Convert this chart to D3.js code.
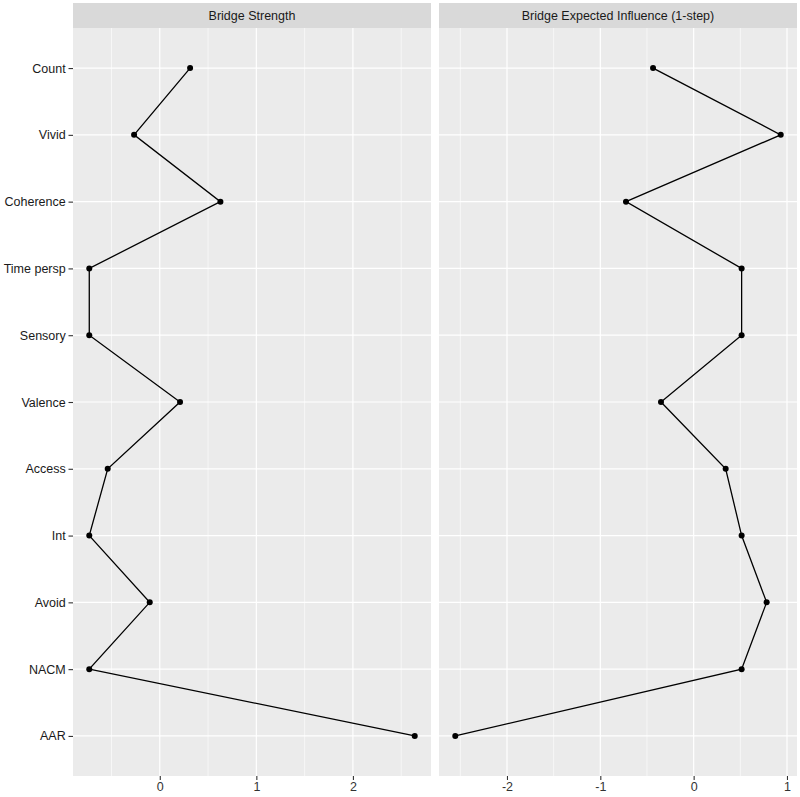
<!DOCTYPE html>
<meta charset="utf-8">
<style>
body { margin: 0; background: #fff; }
text { font-family: "Liberation Sans", Arial, sans-serif; }
</style>
<body>
<div id="chart"></div>
<script src="https://d3js.org/d3.v7.min.js"></script>
<script>
var nodes = ['Count', 'Vivid', 'Coherence', 'Time persp', 'Sensory', 'Valence',
    'Access', 'Int', 'Avoid', 'NACM', 'AAR']
var bridgeStrength = [0.314, -0.266, 0.628, -0.73, -0.73, 0.21, -0.539, -0.73, -0.104, -0.73, 2.64]
var bridgeEI = [-0.435, 0.933, -0.725, 0.514, 0.514, -0.35, 0.343, 0.514, 0.782, 0.514, -2.554]
var panelTitles = ['Bridge Strength', 'Bridge Expected Influence (1-step)']

var width = 800
var height = 797
var panelTop = 28, panelBottom = 776, stripTop = 3
var panels = [
    { title: panelTitles[0], values: bridgeStrength, x0: 73, x1: 431 },
    { title: panelTitles[1], values: bridgeEI, x0: 439, x1: 797 }
]

var svg = d3.select('#chart')
    .append('svg')
    .attr('width', width)
    .attr('height', height)

var y = d3.scalePoint()
    .domain(nodes)
    .range([panelTop, panelBottom])
    .padding(0.6)

panels.forEach(function (p, i) {
    var ext = d3.extent(p.values)
    var pad = (ext[1] - ext[0]) * 0.05
    var x = d3.scaleLinear()
        .domain([ext[0] - pad, ext[1] + pad])
        .range([p.x0, p.x1])

    var g = svg.append('g')

    // strip
    g.append('rect')
        .attr('x', p.x0).attr('y', stripTop)
        .attr('width', p.x1 - p.x0).attr('height', panelTop - stripTop)
        .style('fill', '#d9d9d9')
    g.append('text')
        .attr('x', (p.x0 + p.x1) / 2)
        .attr('y', (stripTop + panelTop) / 2 + 4.5)
        .style('text-anchor', 'middle')
        .style('font-size', '12.5px')
        .style('fill', '#1a1a1a')
        .text(p.title)

    // panel background
    g.append('rect')
        .attr('x', p.x0).attr('y', panelTop)
        .attr('width', p.x1 - p.x0).attr('height', panelBottom - panelTop)
        .style('fill', '#ebebeb')

    var major = x.ticks(4).filter(function (t) { return x(t) >= p.x0 && x(t) <= p.x1 })
    var minor = major.map(function (t) { return t - 0.5 })
        .concat([major[major.length - 1] + 0.5])
        .filter(function (t) { return x(t) >= p.x0 && x(t) <= p.x1 })

    g.selectAll('.minor')
        .data(minor)
        .enter().append('line')
        .attr('x1', function (d) { return x(d) }).attr('x2', function (d) { return x(d) })
        .attr('y1', panelTop).attr('y2', panelBottom)
        .style('stroke', '#fff').style('stroke-width', 0.6)

    g.selectAll('.major')
        .data(major)
        .enter().append('line')
        .attr('x1', function (d) { return x(d) }).attr('x2', function (d) { return x(d) })
        .attr('y1', panelTop).attr('y2', panelBottom)
        .style('stroke', '#fff').style('stroke-width', 1.2)

    g.selectAll('.hgrid')
        .data(nodes)
        .enter().append('line')
        .attr('x1', p.x0).attr('x2', p.x1)
        .attr('y1', function (d) { return y(d) }).attr('y2', function (d) { return y(d) })
        .style('stroke', '#fff').style('stroke-width', 1.2)

    // x axis
    var gx = g.append('g')
        .attr('transform', 'translate(0,' + panelBottom + ')')
        .call(d3.axisBottom(x).tickValues(major).tickSize(4).tickPadding(2).tickFormat(d3.format('')))
    gx.select('.domain').remove()
    gx.selectAll('line').style('stroke', '#333').style('stroke-width', 1.1)
    gx.selectAll('text').style('font-size', '12.5px').style('fill', '#333')
        .style('font-family', '"Liberation Sans", Arial, sans-serif')
        .text(function (d) { return d < 0 ? '-' + Math.abs(d) : d })

    // y axis only on first panel
    if (i === 0) {
        var gy = g.append('g')
            .attr('transform', 'translate(' + p.x0 + ',0)')
            .call(d3.axisLeft(y).tickSize(4.5).tickPadding(2.8))
        gy.select('.domain').remove()
        gy.selectAll('line').style('stroke', '#333').style('stroke-width', 1.1)
        gy.selectAll('text').style('font-size', '12.5px').style('fill', '#1a1a1a')
            .style('font-family', '"Liberation Sans", Arial, sans-serif')
    }

    var pts = nodes.map(function (n, k) { return { name: n, value: p.values[k] } })

    g.append('path')
        .datum(pts)
        .attr('d', d3.line()
            .x(function (d) { return x(d.value) })
            .y(function (d) { return y(d.name) }))
        .style('fill', 'none')
        .style('stroke', '#000')
        .style('stroke-width', 1.3)

    g.selectAll('circle')
        .data(pts)
        .enter().append('circle')
        .attr('cx', function (d) { return x(d.value) })
        .attr('cy', function (d) { return y(d.name) })
        .attr('r', 3)
        .style('fill', '#000')
})
</script>
</body>
